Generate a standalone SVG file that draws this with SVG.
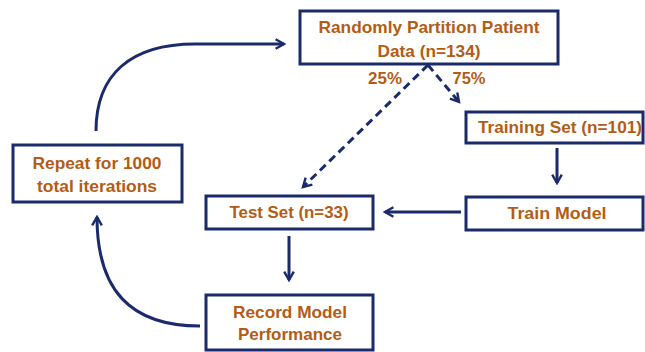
<svg xmlns="http://www.w3.org/2000/svg" width="645" height="352" viewBox="0 0 645 352">
<style>
.box{fill:#fff;stroke:#1B2A6B;stroke-width:3}
.t{font-family:"Liberation Sans",Arial,sans-serif;font-weight:bold;font-size:16.5px;fill:#B35C15;text-anchor:middle}
.c{fill:none;stroke:#1B2A6B;stroke-width:3}
.d{fill:none;stroke:#1B2A6B;stroke-width:3;stroke-dasharray:8,5}
</style>
<defs>
<marker id="ah" viewBox="0 0 10 10" refX="8" refY="5" markerWidth="4" markerHeight="4" orient="auto" markerUnits="strokeWidth">
<path d="M1,1 L8,5 L1,9" fill="none" stroke="#1B2A6B" stroke-width="2"/>
</marker>
</defs>
<g id="n-partition">
<rect class="box" x="300" y="11" width="258" height="53"/>
<text class="t" x="429" y="33" textLength="221" lengthAdjust="spacingAndGlyphs">Randomly Partition Patient</text>
<text class="t" x="429" y="57" textLength="103" lengthAdjust="spacingAndGlyphs">Data (n=134)</text>
</g>
<g id="n-training">
<rect class="box" x="466" y="112" width="177" height="31"/>
<text class="t" x="560" y="133" textLength="164" lengthAdjust="spacingAndGlyphs">Training Set (n=101)</text>
</g>
<g id="n-train">
<rect class="box" x="466" y="197" width="177" height="33"/>
<text class="t" x="557" y="219" textLength="99" lengthAdjust="spacingAndGlyphs">Train Model</text>
</g>
<g id="n-test">
<rect class="box" x="206" y="196" width="167" height="33"/>
<text class="t" x="289" y="218" textLength="119" lengthAdjust="spacingAndGlyphs">Test Set (n=33)</text>
</g>
<g id="n-record">
<rect class="box" x="206" y="295" width="167" height="55"/>
<text class="t" x="290" y="318" textLength="114" lengthAdjust="spacingAndGlyphs">Record Model</text>
<text class="t" x="290" y="340" textLength="104" lengthAdjust="spacingAndGlyphs">Performance</text>
</g>
<g id="n-repeat">
<rect class="box" x="13" y="145" width="169" height="57"/>
<text class="t" x="97" y="169" textLength="129" lengthAdjust="spacingAndGlyphs">Repeat for 1000</text>
<text class="t" x="97" y="192" textLength="120" lengthAdjust="spacingAndGlyphs">total iterations</text>
</g>
<g id="labels">
<text class="t" x="385" y="84" textLength="34" lengthAdjust="spacingAndGlyphs">25%</text>
<text class="t" x="469" y="84" textLength="33" lengthAdjust="spacingAndGlyphs">75%</text>
</g>
<g id="connectors">
<path class="d" d="M428,65 L303,187" marker-end="url(#ah)"/>
<path class="d" d="M428,65 L459,102" marker-end="url(#ah)"/>
<path class="c" d="M557,148 L557,183" marker-end="url(#ah)"/>
<path class="c" d="M461,212 L385,212" marker-end="url(#ah)"/>
<path class="c" d="M289,236 L289,280" marker-end="url(#ah)"/>
<path class="c" d="M200,326 C130,326 97,290 97,217" marker-end="url(#ah)"/>
<path class="c" d="M96,131 C96,75 130,44 195,44 L284,44" marker-end="url(#ah)"/>
</g>
</svg>
